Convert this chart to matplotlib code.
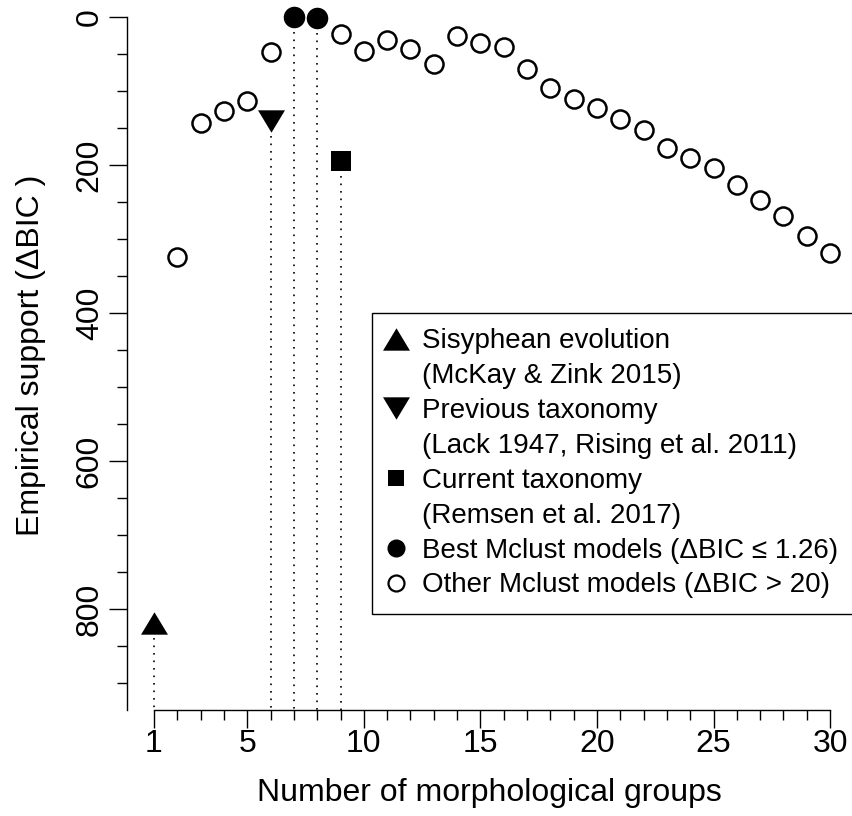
import numpy as np
import matplotlib
matplotlib.use('Agg')
import matplotlib.pyplot as plt
from matplotlib.lines import Line2D

plt.rcParams['font.family'] = ['Liberation Sans', 'DejaVu Sans']

# --- data ---
other_k = [2, 3, 4, 5, 6, 9, 10, 11, 12, 13, 14, 15, 16, 17, 18, 19, 20,
           21, 22, 23, 24, 25, 26, 27, 28, 29, 30]
other_bic = [324, 143, 127, 113, 47, 23, 45, 31, 43, 63, 25, 35, 40, 70,
             95, 110, 122, 137, 152, 177, 190, 203, 227, 247, 268, 296, 318]
best_k = [7, 8]
best_bic = [0, 1.26]
sisyphean_k, sisyphean_bic = 1, 819
previous_k, previous_bic = 6, 140
current_k, current_bic = 9, 194

x_major = [1, 5, 10, 15, 20, 25, 30]
y_major = [0, 200, 400, 600, 800]

legend_labels = ["Sisyphean evolution", "(McKay & Zink 2015)",
                 "Previous taxonomy", "(Lack 1947, Rising et al. 2011)",
                 "Current taxonomy", "(Remsen et al. 2017)",
                 "Best Mclust models (\u0394BIC \u2264 1.26)",
                 "Other Mclust models (\u0394BIC > 20)"]

# triangle markers a bit wider than tall, like R's pch 17 / 25
TRI_UP = [(-1, -0.83), (1, -0.83), (0, 0.83), (-1, -0.83)]
TRI_DOWN = [(-1, 0.83), (1, 0.83), (0, -0.83), (-1, 0.83)]

W, H = 852, 816
fig = plt.figure(figsize=(W / 100, H / 100), dpi=100)
ax = fig.add_axes([127 / W, 106 / H, (W - 127) / W, 710 / H])

Y_BOTTOM = 936
ax.set_xlim(-0.158, 30.94)
ax.set_ylim(Y_BOTTOM, -23.4)

# dotted drop lines
dot = dict(color='black', lw=1.2, linestyle=(0, (1, 3.5)), zorder=1)
for k, v in [(sisyphean_k, sisyphean_bic), (previous_k, previous_bic),
             (current_k, current_bic)] + list(zip(best_k, best_bic)):
    ax.plot([k, k], [v, Y_BOTTOM], **dot)

ax.plot(other_k, other_bic, 'o', ms=13, mfc='white', mec='black', mew=1.8,
        clip_on=False, zorder=3)
ax.plot(best_k, best_bic, 'o', ms=15.5, mfc='black', mec='black', mew=0,
        clip_on=False, zorder=3)
ax.plot([sisyphean_k], [sisyphean_bic], marker=TRI_UP, ms=19.4, color='black',
        mew=0, linestyle='none', zorder=3)
ax.plot([previous_k], [previous_bic], marker=TRI_DOWN, ms=19.4, color='black',
        mew=0, linestyle='none', zorder=3)
ax.plot([current_k], [current_bic], 's', ms=14.4, color='black', mew=0,
        zorder=3)

# axes in R style
for s in ['top', 'right']:
    ax.spines[s].set_visible(False)
ax.spines['bottom'].set_bounds(1, 30)
ax.spines['left'].set_bounds(0, Y_BOTTOM)
for s in ['bottom', 'left']:
    ax.spines[s].set_linewidth(1.0)

ax.set_xticks(x_major)
ax.set_xticks(range(1, 31), minor=True)
ax.set_yticks(y_major)
ax.set_yticks(range(0, 901, 50), minor=True)
ax.tick_params(which='major', length=13, width=1.0, labelsize=23)
ax.tick_params(which='minor', length=7.2, width=1.0)
ax.tick_params(axis='x', which='major', pad=1)
ax.tick_params(axis='y', which='major', pad=3)
for lab in ax.get_yticklabels():
    lab.set_rotation(90)
    lab.set_va('center')

ax.set_xlabel("Number of morphological groups", fontsize=23, labelpad=13)
ax.set_ylabel("Empirical support (\u0394BIC )", fontsize=23, labelpad=21)

handles = [
    Line2D([], [], marker=TRI_UP, ms=19.4, color='black', mew=0, ls='none'),
    Line2D([], [], ls='none'),
    Line2D([], [], marker=TRI_DOWN, ms=19.4, color='black', mew=0, ls='none'),
    Line2D([], [], ls='none'),
    Line2D([], [], marker='s', ms=11.5, color='black', mew=0, ls='none'),
    Line2D([], [], ls='none'),
    Line2D([], [], marker='o', ms=13, color='black', mew=0, ls='none'),
    Line2D([], [], marker='o', ms=11.5, mfc='white', mec='black', mew=1.6, ls='none'),
]
leg = ax.legend(handles, legend_labels, loc='upper left',
                bbox_to_anchor=((372 - 127) / (W - 127), (710 - 313) / 710),
                borderaxespad=0, fontsize=20, frameon=True, fancybox=False,
                edgecolor='black', framealpha=1, labelspacing=0.32,
                borderpad=0.55, handlelength=0.65, handletextpad=0.6)
leg.get_frame().set_linewidth(1.0)

fig.savefig('out.png', dpi=100)
